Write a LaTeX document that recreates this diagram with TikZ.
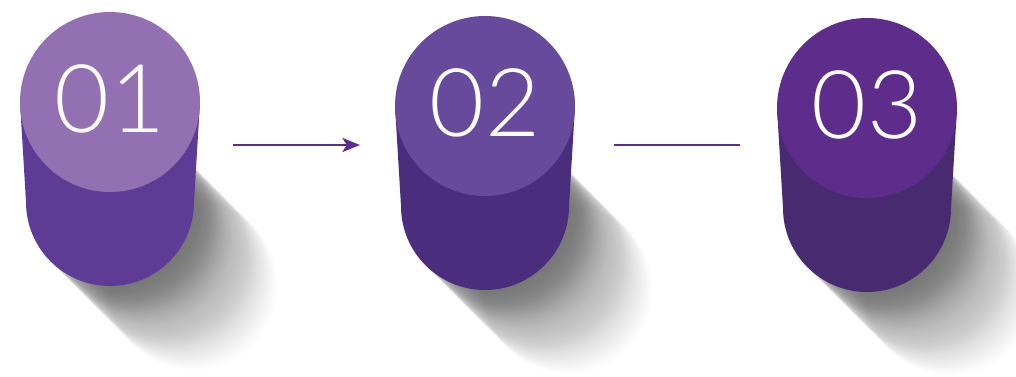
\documentclass[tikz,border=0pt]{standalone}
\usepackage{fontspec}
\usetikzlibrary{arrows.meta}
\newfontfamily\numfont{Lato Light}
\definecolor{topone}{HTML}{9370B1}
\definecolor{bodyone}{HTML}{5E3C96}
\definecolor{toptwo}{HTML}{684A9C}
\definecolor{bodytwo}{HTML}{4B2D7E}
\definecolor{topthree}{HTML}{5E2C8A}
\definecolor{bodythree}{HTML}{472A6F}
\definecolor{linkcol}{HTML}{5E2D91}

\begin{document}
\begin{tikzpicture}[x=0.02cm, y=0.02cm,
            shadow/.style={fill=black, fill opacity={0.028*(1-#1/125)}},
            digits/.style={text=white, inner sep=0pt, font=\numfont\fontsize{54}{60}\selectfont},
            link/.style={draw=linkcol, line width=1.6pt}
        ]
            \useasboundingbox (0,0) rectangle (1016,376);

            % Shadows
            \foreach \t in {0,2,...,84} {
                \fill[shadow=\t] (110+\t,174-\t) circle[radius=84];
                \fill[shadow=\t] (485+\t,170-\t) circle[radius=84];
                \fill[shadow=\t] (867+\t,168-\t) circle[radius=84];
            }

            % Cylinder 01
            \fill[bodyone] (20,274) -- (26,174) arc[start angle=180, end angle=360, radius=84] -- (200,274) -- cycle;
            \fill[topone] (110,274) circle[radius=90];
            \node (num1) at (110,277) [digits] {01};

            % Cylinder 02
            \fill[bodytwo] (395,270) -- (401,170) arc[start angle=180, end angle=360, radius=84] -- (575,270) -- cycle;
            \fill[toptwo] (485,270) circle[radius=90];
            \node (num2) at (485,273) [digits] {02};

            % Cylinder 03
            \fill[bodythree] (777,268) -- (783,168) arc[start angle=180, end angle=360, radius=84] -- (957,268) -- cycle;
            \fill[topthree] (867,268) circle[radius=90];
            \node (num3) at (867,271) [digits] {03};

            % Links
            \coordinate (l1a) at (233,231);
            \coordinate (l1b) at (360,231);
            \coordinate (l2a) at (614,231);
            \coordinate (l2b) at (740,231);
            \draw[link, -{Stealth[length=10pt, width=8pt, inset=2.5pt]}] (l1a) -- (l1b);
            \draw[link] (l2a) -- (l2b);
        \end{tikzpicture}
\end{document}
